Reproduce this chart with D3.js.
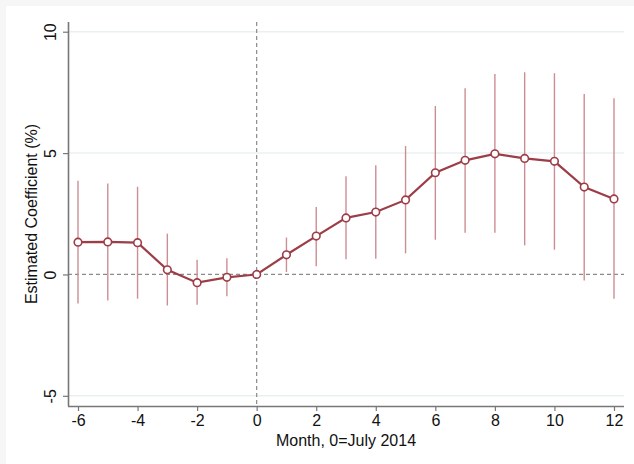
<!DOCTYPE html>
<html>
<head>
<meta charset="utf-8">
<script src="https://cdn.jsdelivr.net/npm/d3@7"></script>
<style>
  body { margin: 0; background: #f6f6f6; }
  svg { display: block; font-family: "Liberation Sans", Arial, sans-serif; }
</style>
</head>
<body>
<svg id="chart"></svg>
<script>
const months = [-6, -5, -4, -3, -2, -1, 0, 1, 2, 3, 4, 5, 6, 7, 8, 9, 10, 11, 12];
const coef   = [1.33, 1.34, 1.31, 0.19, -0.34, -0.12, 0, 0.81, 1.58, 2.33, 2.57, 3.07, 4.19, 4.70, 4.97, 4.78, 4.66, 3.60, 3.11];
const ciLow  = [-1.20, -1.07, -1.00, -1.28, -1.25, -0.90, 0, 0.10, 0.34, 0.63, 0.65, 0.87, 1.43, 1.72, 1.72, 1.20, 1.02, -0.25, -1.00];
const ciHigh = [3.86, 3.75, 3.61, 1.68, 0.61, 0.67, 0, 1.52, 2.78, 4.05, 4.50, 5.29, 6.94, 7.67, 8.26, 8.33, 8.29, 7.43, 7.26];
const xTicks = [-6, -4, -2, 0, 2, 4, 6, 8, 10, 12];
const yTicks = [-5, 0, 5, 10];

const width = 634, height = 464;
const mLeft = 68, mRight = 624, mTop = 22, mBottom = 406;

const svg = d3.select("#chart").attr("width", width).attr("height", height);

// white panel (screenshot has a grey strip top and left)
svg.append("rect").attr("x", 6).attr("y", 6).attr("width", width - 6).attr("height", height - 6).attr("fill", "#fff");

const x = d3.scaleLinear().domain([-6.336, 12.336]).range([mLeft, mRight]);
const y = d3.scaleLinear().domain([-5.42, 10.4]).range([mBottom, mTop]);

const data = months.map((m, i) => ({ m: m, c: coef[i], lo: ciLow[i], hi: ciHigh[i] }));

// grid
svg.append("g").selectAll("line")
  .data(yTicks.filter(t => t !== 0))
  .enter().append("line")
  .attr("x1", mLeft).attr("x2", mRight)
  .attr("y1", d => y(d)).attr("y2", d => y(d))
  .attr("stroke", "#eaf0f0").attr("stroke-width", 1.5);

// reference lines
svg.append("line")
  .attr("x1", mLeft).attr("x2", mRight).attr("y1", y(0)).attr("y2", y(0))
  .attr("stroke", "#8a8a8a").attr("stroke-width", 1.2).attr("stroke-dasharray", "4,3");
svg.append("line")
  .attr("x1", x(0)).attr("x2", x(0)).attr("y1", mTop).attr("y2", mBottom)
  .attr("stroke", "#8a8a8a").attr("stroke-width", 1.2).attr("stroke-dasharray", "4,3");

// confidence intervals
svg.append("g").selectAll("line")
  .data(data.filter(d => d.hi !== d.lo))
  .enter().append("line")
  .attr("x1", d => x(d.m)).attr("x2", d => x(d.m))
  .attr("y1", d => y(d.lo)).attr("y2", d => y(d.hi))
  .attr("stroke", "#cc8e94").attr("stroke-width", 1.4);

// line
svg.append("path")
  .datum(data)
  .attr("fill", "none")
  .attr("stroke", "#9c3d47")
  .attr("stroke-width", 2.2)
  .attr("d", d3.line().x(d => x(d.m)).y(d => y(d.c)));

svg.append("g").selectAll("circle")
  .data(data)
  .enter().append("circle")
  .attr("cx", d => x(d.m)).attr("cy", d => y(d.c)).attr("r", 3.8)
  .attr("fill", "#fff").attr("stroke", "#9c3d47").attr("stroke-width", 1.6);

// axes (plain hyphen for negatives, like the original)
const fmt = d => String(d);
const xAxis = svg.append("g").attr("transform", `translate(0,${mBottom})`)
  .call(d3.axisBottom(x).tickValues(xTicks).tickSize(5).tickPadding(4).tickFormat(fmt));
const yAxis = svg.append("g").attr("transform", `translate(${mLeft},0)`)
  .call(d3.axisLeft(y).tickValues(yTicks).tickSize(5).tickPadding(4).tickFormat(fmt));

[xAxis, yAxis].forEach(a => {
  a.select(".domain").attr("stroke", "#777").attr("stroke-width", 1.6);
  a.selectAll(".tick line").attr("stroke", "#777").attr("stroke-width", 1.2);
  a.selectAll("text").attr("fill", "#111").attr("font-size", 16).attr("font-family", "Liberation Sans, Arial, sans-serif");
});
xAxis.select(".domain").attr("d", `M${mLeft},0.5H${mRight}`);
yAxis.select(".domain").attr("d", `M0.5,${mTop}V${mBottom}`);

yAxis.selectAll(".tick text")
  .attr("transform", "rotate(-90)")
  .attr("x", 0).attr("y", -12)
  .attr("dy", "0")
  .attr("text-anchor", "middle");

svg.append("text")
  .attr("x", (mLeft + mRight) / 2).attr("y", 446)
  .attr("text-anchor", "middle").attr("font-size", 16).attr("fill", "#111")
  .text("Month, 0=July 2014");

svg.append("text")
  .attr("transform", `translate(37,${(mTop + mBottom) / 2}) rotate(-90)`)
  .attr("text-anchor", "middle").attr("font-size", 16).attr("fill", "#111")
  .text("Estimated Coefficient (%)");
</script>
</body>
</html>
